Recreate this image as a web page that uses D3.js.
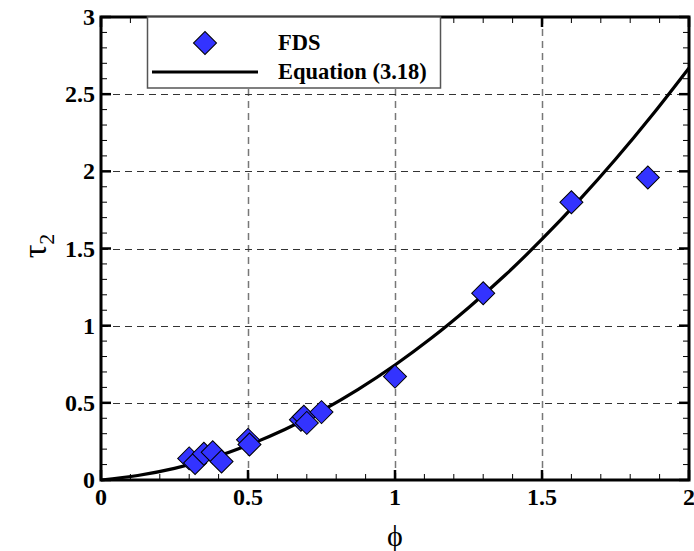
<!DOCTYPE html>
<html><head><meta charset="utf-8">
<script src="https://cdn.jsdelivr.net/npm/d3@7"></script>
<style>body{margin:0;background:#fff}svg{display:block}</style>
</head><body>
<svg id="c" width="694" height="551"></svg>
<script>
// FDS simulation points (phi, tau2)
const fdsPhi = [0.30, 0.32, 0.35, 0.38, 0.41, 0.50, 0.505, 0.68, 0.69, 0.70, 0.75, 1.00, 1.30, 1.60, 1.86];
const fdsTau = [0.14, 0.11, 0.17, 0.18, 0.12, 0.26, 0.23, 0.39, 0.41, 0.37, 0.44, 0.67, 1.21, 1.80, 1.96];
// Equation (3.18) curve
const eqPhi = [0, 0.125, 0.25, 0.375, 0.5, 0.625, 0.75, 0.875, 1.0, 1.125, 1.25, 1.375, 1.5, 1.625, 1.75, 1.875, 2.0];
const eqTau = [0, 0.029, 0.075, 0.141, 0.225, 0.327, 0.448, 0.587, 0.745, 0.921, 1.116, 1.328, 1.56, 1.81, 2.078, 2.365, 2.67];
const xTicks = [0, 0.5, 1, 1.5, 2];
const yTicks = [0, 0.5, 1, 1.5, 2, 2.5, 3];
const xTickLabels = ["0", "0.5", "1", "1.5", "2"];
const yTickLabels = ["0", "0.5", "1", "1.5", "2", "2.5", "3"];
const legendLabels = ["FDS", "Equation (3.18)"];

const svg = d3.select("#c");
const L = 101, R = 689, T = 17, B = 480;
const x = d3.scaleLinear().domain([0, 2]).range([L, R]);
const y = d3.scaleLinear().domain([0, 3]).range([B, T]);
const font = "'Liberation Serif','Times New Roman',serif";

// grid
const g = svg.append("g");
g.selectAll(".gx").data(xTicks.slice(1, -1)).enter().append("line")
  .attr("x1", d => Math.round(x(d)) + 0.5).attr("x2", d => Math.round(x(d)) + 0.5)
  .attr("y1", T).attr("y2", B)
  .attr("stroke", "#777").attr("stroke-width", 1.5).attr("stroke-dasharray", "7,5");
g.selectAll(".gy").data(yTicks.slice(1, -1)).enter().append("line")
  .attr("y1", d => Math.round(y(d)) + 0.5).attr("y2", d => Math.round(y(d)) + 0.5)
  .attr("x1", L).attr("x2", R)
  .attr("stroke", "#333").attr("stroke-width", 1).attr("stroke-dasharray", "7,5");

// ticks (inward, on all four sides)
const minorX = d3.range(0, 2.0001, 0.1).map(v => +v.toFixed(2));
const minorY = d3.range(0, 3.0001, 0.1).map(v => +v.toFixed(2));
const tk = svg.append("g").attr("stroke", "#000");
minorX.forEach(v => {
  const major = Math.abs(v * 2 - Math.round(v * 2)) < 1e-6;
  const len = major ? 10 : 6, w = major ? 2.5 : 1;
  tk.append("line").attr("x1", x(v)).attr("x2", x(v)).attr("y1", B).attr("y2", B - len).attr("stroke-width", w);
  tk.append("line").attr("x1", x(v)).attr("x2", x(v)).attr("y1", T).attr("y2", T + len).attr("stroke-width", w);
});
minorY.forEach(v => {
  const major = Math.abs(v * 2 - Math.round(v * 2)) < 1e-6;
  const len = major ? 10 : 6, w = major ? 2.5 : 1;
  tk.append("line").attr("y1", y(v)).attr("y2", y(v)).attr("x1", L).attr("x2", L + len).attr("stroke-width", w);
  tk.append("line").attr("y1", y(v)).attr("y2", y(v)).attr("x1", R).attr("x2", R - len).attr("stroke-width", w);
});

// curve
const line = d3.line().x((d, i) => x(eqPhi[i])).y((d, i) => y(eqTau[i])).curve(d3.curveMonotoneX);
svg.append("path").datum(eqPhi).attr("d", line).attr("fill", "none")
  .attr("stroke", "#000").attr("stroke-width", 3.2);

// diamonds
const sym = d3.symbol().type(d3.symbolSquare).size(265);
svg.selectAll(".pt").data(fdsPhi).enter().append("path")
  .attr("d", sym)
  .attr("transform", (d, i) => `translate(${x(d)},${y(fdsTau[i])}) rotate(45)`)
  .attr("fill", "#3333ff").attr("stroke", "#000").attr("stroke-width", 1);

// frame
svg.append("rect").attr("x", L).attr("y", T).attr("width", R - L).attr("height", B - T)
  .attr("fill", "none").attr("stroke", "#000").attr("stroke-width", 3);

// tick labels
svg.selectAll(".xl").data(xTicks).enter().append("text")
  .attr("x", d => x(d)).attr("y", 505).attr("text-anchor", "middle")
  .attr("font-family", font).attr("font-weight", "bold").attr("font-size", 24)
  .text((d, i) => xTickLabels[i]);
svg.selectAll(".yl").data(yTicks).enter().append("text")
  .attr("x", 95).attr("y", d => y(d) + 8).attr("text-anchor", "end")
  .attr("font-family", font).attr("font-weight", "bold").attr("font-size", 24)
  .text((d, i) => yTickLabels[i]);

// axis titles
svg.append("text").attr("x", (L + R) / 2).attr("y", 546).attr("text-anchor", "middle")
  .attr("font-family", font).attr("font-size", 30).text("ϕ");
const yt = svg.append("text").attr("transform", "translate(46,246) rotate(-90)")
  .attr("text-anchor", "middle").attr("font-family", font).attr("font-size", 34);
yt.append("tspan").text("τ");
yt.append("tspan").attr("font-size", 22).attr("dy", 8).text("2");

// legend
svg.append("rect").attr("x", 147.5).attr("y", T).attr("width", 293).attr("height", 71)
  .attr("fill", "#fff").attr("stroke", "#555").attr("stroke-width", 1.5);
svg.append("path").attr("d", sym)
  .attr("transform", `translate(205,43) rotate(45)`)
  .attr("fill", "#3333ff").attr("stroke", "#000").attr("stroke-width", 1);
svg.append("line").attr("x1", 152).attr("x2", 258).attr("y1", 72).attr("y2", 72)
  .attr("stroke", "#000").attr("stroke-width", 3.2);
svg.selectAll(".lg").data(legendLabels).enter().append("text")
  .attr("x", 278).attr("y", (d, i) => 50 + i * 29)
  .attr("font-family", font).attr("font-weight", "bold").attr("font-size", 22.5)
  .text(d => d);
</script>
</body></html>
